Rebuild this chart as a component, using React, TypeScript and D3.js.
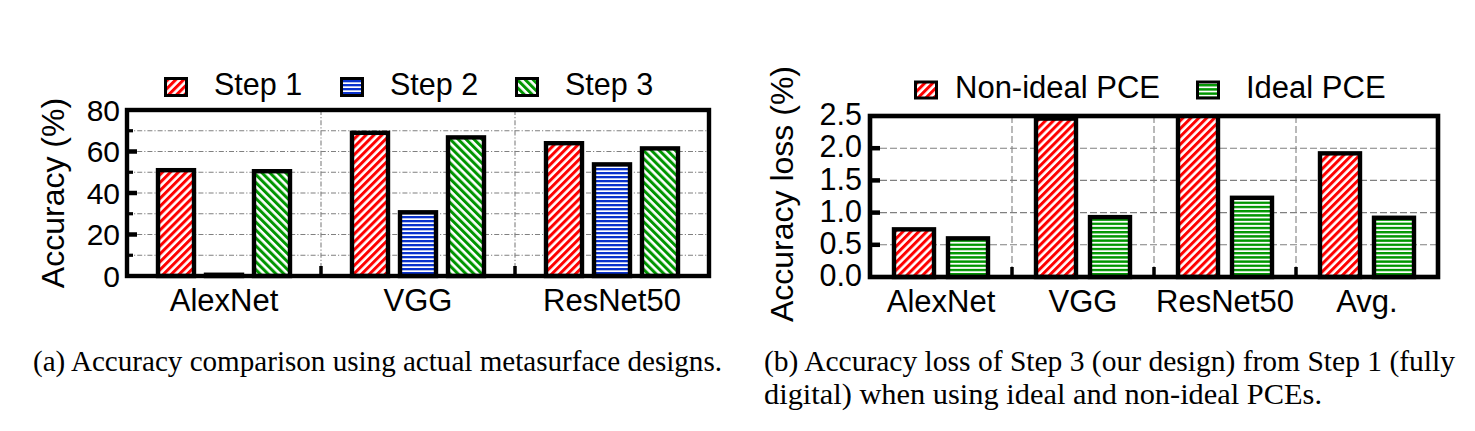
import React from 'react';
import * as d3 from 'd3';

// ---------- Data ----------
const leftCategories = ['AlexNet', 'VGG', 'ResNet50'];
const leftSeries = ['Step 1', 'Step 2', 'Step 3'];
const step1Values = [51, 69, 64];
const step2Values = [0.6, 30.7, 53.8];
const step3Values = [50.5, 66.8, 61.5];
const leftTicks = [0, 20, 40, 60, 80];

const rightCategories = ['AlexNet', 'VGG', 'ResNet50', 'Avg.'];
const rightSeries = ['Non-ideal PCE', 'Ideal PCE'];
const nonIdealValues = [0.74, 2.46, 2.56, 1.92];
const idealValues = [0.6, 0.93, 1.23, 0.92];
const rightTicks = [0, 0.5, 1.0, 1.5, 2.0, 2.5];

const captionA = '(a) Accuracy comparison using actual metasurface designs.';
const captionB1 = '(b) Accuracy loss of Step 3 (our design) from Step 1 (fully';
const captionB2 = 'digital) when using ideal and non-ideal PCEs.';

const SANS = '"Liberation Sans", Arial, Helvetica, sans-serif';
const SERIF = '"Liberation Serif", "Times New Roman", serif';
const RED = '#ff0000';
const BLUE = '#0a32cc';
const GREEN = '#009600';
const GRID = '#808080';

function Patterns() {
  return (
    <defs>
      <pattern id="redDiag" patternUnits="userSpaceOnUse" width="5.6" height="5.6" patternTransform="rotate(45)">
        <rect width="5.6" height="5.6" fill="#fff" />
        <rect width="3" height="5.6" fill={RED} />
      </pattern>
      <pattern id="greenDiag" patternUnits="userSpaceOnUse" width="5.6" height="5.6" patternTransform="rotate(-45)">
        <rect width="5.6" height="5.6" fill="#fff" />
        <rect width="3" height="5.6" fill={GREEN} />
      </pattern>
      <pattern id="blueH" patternUnits="userSpaceOnUse" width="4" height="4">
        <rect width="4" height="4" fill="#fff" />
        <rect width="4" height="2.3" fill={BLUE} />
      </pattern>
      <pattern id="greenH" patternUnits="userSpaceOnUse" width="4" height="4.2">
        <rect width="4" height="4.2" fill="#fff" />
        <rect width="4" height="2.4" fill={GREEN} />
      </pattern>
      <clipPath id="rightClip">
        <rect x={870} y={116} width={568} height={170} />
      </clipPath>
    </defs>
  );
}

function LeftChart() {
  const P = { x0: 127, x1: 709, y0: 110, y1: 276 };
  const x0 = d3.scaleBand<string>().domain(leftCategories).range([P.x0, P.x1]).padding(0);
  const gw = x0.bandwidth();
  const x1 = d3
    .scaleBand<string>()
    .domain(leftSeries)
    .range([gw / 2 - 72, gw / 2 + 72])
    .paddingInner(0.25)
    .paddingOuter(0.125);
  const y = d3.scaleLinear().domain([0, 80]).range([P.y1, P.y0]);
  const seriesValues = [step1Values, step2Values, step3Values];
  const fills = ['url(#redDiag)', 'url(#blueH)', 'url(#greenDiag)'];
  const gridVals = d3.range(10, 80, 10);
  const majorTicks = [20, 40, 60];
  const minorTicks = [10, 30, 50, 70];
  const seps = leftCategories.slice(1).map((c) => x0(c)!);
  const legendX = [164, 340, 515];

  return (
    <g>
      {gridVals.map((v) => (
        <line key={'g' + v} x1={P.x0} x2={P.x1} y1={y(v)} y2={y(v)} stroke={GRID} strokeWidth={1.1} strokeDasharray="5,2,1.2,2" />
      ))}
      {seps.map((sx, i) => (
        <line key={'s' + i} x1={sx} x2={sx} y1={P.y0} y2={P.y1} stroke={GRID} strokeWidth={1.1} strokeDasharray="5,2,1.2,2" />
      ))}
      {leftCategories.map((c, ci) =>
        leftSeries.map((s, si) => {
          const v = seriesValues[si][ci];
          return (
            <rect
              key={c + s}
              x={x0(c)! + x1(s)!}
              y={y(v)}
              width={x1.bandwidth()}
              height={y(0) - y(v)}
              fill={fills[si]}
              stroke="#000"
              strokeWidth={4.4}
            />
          );
        })
      )}
      <rect x={P.x0} y={P.y0} width={P.x1 - P.x0} height={P.y1 - P.y0} fill="none" stroke="#000" strokeWidth={4.4} />
      {majorTicks.map((v) => (
        <line key={'mt' + v} x1={P.x0} x2={P.x0 + 10} y1={y(v)} y2={y(v)} stroke="#000" strokeWidth={4.5} />
      ))}
      {minorTicks.map((v) => (
        <line key={'nt' + v} x1={P.x0} x2={P.x0 + 6} y1={y(v)} y2={y(v)} stroke="#000" strokeWidth={3.2} />
      ))}
      {seps.map((sx, i) => (
        <line key={'bt' + i} x1={sx} x2={sx} y1={P.y1} y2={P.y1 - 10} stroke="#000" strokeWidth={3.5} />
      ))}
      {leftTicks.map((v) => (
        <text key={'tl' + v} x={120} y={y(v)} dy="0.36em" textAnchor="end" fontFamily={SANS} fontSize={30} fill="#000">
          {v}
        </text>
      ))}
      {leftCategories.map((c) => (
        <text key={'xl' + c} x={x0(c)! + gw / 2} y={311} textAnchor="middle" fontFamily={SANS} fontSize={31} fill="#000">
          {c}
        </text>
      ))}
      <text transform={`translate(64,193) rotate(-90)`} textAnchor="middle" fontFamily={SANS} fontSize={32} fill="#000">
        Accuracy (%)
      </text>
      {leftSeries.map((s, i) => (
        <g key={'lg' + s}>
          <rect x={legendX[i] + 1.5} y={78.5} width={21} height={17} fill={fills[i]} stroke="#000" strokeWidth={3} />
          <text x={legendX[i] + 50} y={95} fontFamily={SANS} fontSize={30.5} fill="#000">
            {s}
          </text>
        </g>
      ))}
    </g>
  );
}

function RightChart() {
  const P = { x0: 870, x1: 1438, y0: 116, y1: 277 };
  const x0 = d3.scaleBand<string>().domain(rightCategories).range([P.x0, P.x1]).padding(0);
  const gw = x0.bandwidth();
  const x1 = d3
    .scaleBand<string>()
    .domain(rightSeries)
    .range([gw / 2 - 54, gw / 2 + 54])
    .paddingInner(14 / 54)
    .paddingOuter(7 / 54);
  const y = d3.scaleLinear().domain([0, 2.5]).range([P.y1, P.y0]);
  const seriesValues = [nonIdealValues, idealValues];
  const fills = ['url(#redDiag)', 'url(#greenH)'];
  const gridVals = [0.5, 1.0, 1.5, 2.0];
  const seps = rightCategories.slice(1).map((c) => x0(c)!);
  const legendX = [914, 1196];
  const fmt = d3.format('.1f');

  return (
    <g>
      {gridVals.map((v) => (
        <line key={'g' + v} x1={P.x0} x2={P.x1} y1={y(v)} y2={y(v)} stroke={GRID} strokeWidth={1.1} strokeDasharray="7,3" />
      ))}
      {seps.map((sx, i) => (
        <line key={'s' + i} x1={sx} x2={sx} y1={P.y0} y2={P.y1} stroke={GRID} strokeWidth={1.1} strokeDasharray="7,3" />
      ))}
      <g clipPath="url(#rightClip)">
        {rightCategories.map((c, ci) =>
          rightSeries.map((s, si) => {
            const v = seriesValues[si][ci];
            return (
              <rect
                key={c + s}
                x={x0(c)! + x1(s)!}
                y={y(v)}
                width={x1.bandwidth()}
                height={y(0) - y(v)}
                fill={fills[si]}
                stroke="#000"
                strokeWidth={4.4}
              />
            );
          })
        )}
      </g>
      <rect x={P.x0} y={P.y0} width={P.x1 - P.x0} height={P.y1 - P.y0} fill="none" stroke="#000" strokeWidth={4.6} />
      {gridVals.map((v) => (
        <line key={'mt' + v} x1={P.x0} x2={P.x0 + 10} y1={y(v)} y2={y(v)} stroke="#000" strokeWidth={4.5} />
      ))}
      {seps.map((sx, i) => (
        <line key={'bt' + i} x1={sx} x2={sx} y1={P.y1} y2={P.y1 - 10} stroke="#000" strokeWidth={3.5} />
      ))}
      {rightTicks.map((v) => (
        <text key={'tl' + v} x={862} y={y(v)} dy="0.3em" textAnchor="end" fontFamily={SANS} fontSize={30.5} fill="#000">
          {fmt(v)}
        </text>
      ))}
      {rightCategories.map((c) => (
        <text key={'xl' + c} x={x0(c)! + gw / 2} y={312} textAnchor="middle" fontFamily={SANS} fontSize={31} fill="#000">
          {c}
        </text>
      ))}
      <text transform={`translate(793,194) rotate(-90)`} textAnchor="middle" fontFamily={SANS} fontSize={32} fill="#000">
        Accuracy loss (%)
      </text>
      {rightSeries.map((s, i) => (
        <g key={'lg' + s}>
          <rect x={legendX[i] + 1.5} y={82} width={21} height={16} fill={fills[i]} stroke="#000" strokeWidth={3} />
          <text x={legendX[i] + (i === 0 ? 41 : 50)} y={98} fontFamily={SANS} fontSize={31} fill="#000">
            {s}
          </text>
        </g>
      ))}
    </g>
  );
}

export default function App() {
  return (
    <svg width={1475} height={431} viewBox="0 0 1475 431" style={{ position: 'absolute', left: 0, top: 0, background: '#fff' }}>
      <rect width={1475} height={431} fill="#fff" />
      <Patterns />
      <LeftChart />
      <RightChart />
      <text x={33} y={371} fontFamily={SERIF} fontSize={30} textLength={689} lengthAdjust="spacingAndGlyphs" fill="#000">
        {captionA}
      </text>
      <text x={764} y={371} fontFamily={SERIF} fontSize={29} textLength={691} lengthAdjust="spacingAndGlyphs" fill="#000">
        {captionB1}
      </text>
      <text x={764} y={404} fontFamily={SERIF} fontSize={30} textLength={558} lengthAdjust="spacingAndGlyphs" fill="#000">
        {captionB2}
      </text>
    </svg>
  );
}
